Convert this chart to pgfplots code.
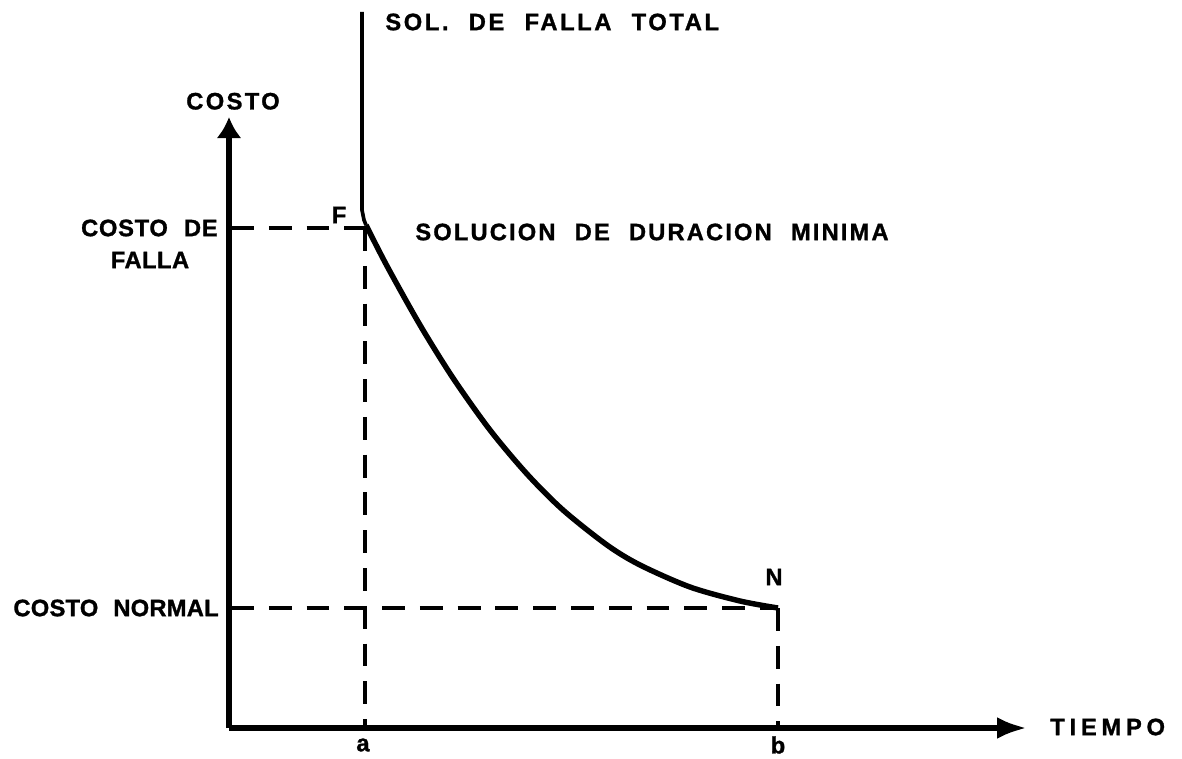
\documentclass[border=0pt]{standalone}
\usepackage{pgfplots}
\pgfplotsset{compat=1.18}
\usetikzlibrary{arrows.meta}
\usepackage{fontspec}
\setmainfont{Liberation Sans}
\newfontfamily\lab[WordSpace=2.2,BoldFeatures={FakeBold=1.2}]{Liberation Sans}
\newcommand\ls[1]{\addfontfeature{LetterSpace=#1}}
\tikzset{lbl/.style={font=\lab\bfseries\fontsize{13.5}{15}\selectfont, inner sep=0pt}}
\begin{document}
\begin{tikzpicture}
\begin{axis}[
  x=0.2mm, y=0.2mm,
  xmin=229, xmax=1027, ymin=30, ymax=641,
  axis lines=left,
  axis line style={line width=3.3pt},
  x axis line style={-{Latex[length=6mm,width=4.4mm]}},
  y axis line style={-{Latex[length=4.2mm,width=5mm]}},
  xtick=\empty, ytick=\empty,
  clip=false,
]
\path (axis cs:0,0) rectangle (axis cs:1182,758);
% vertical line (total failure solution)
\addplot[black, line width=2.1pt] coordinates {(362,746) (362,548) (364,538) (366,533)};
% cost curve
\addplot[black, line width=3.1pt, smooth] coordinates {
 (366,533) (387,492) (420,433) (453,380) (490,328) (527,284)
 (563,248) (607,213) (640,193) (690,171) (740,157) (778,150)};
% dashed guides
\addplot[black, line width=2pt, dash pattern=on 13pt off 8.5pt] coordinates {(231,530) (366,530)};
\addplot[black, line width=2pt, dash pattern=on 13pt off 8.5pt] coordinates {(365,530) (365,32)};
\addplot[black, line width=2pt, dash pattern=on 13pt off 8.5pt] coordinates {(231,150) (778,150)};
\addplot[black, line width=2pt, dash pattern=on 13pt off 8.5pt] coordinates {(778,150) (778,32)};
% labels
\node[lbl, anchor=south] at (axis cs:233,648) {\ls{10}COSTO};
\node[lbl, anchor=west] at (axis cs:1050,31) {\ls{20}TIEMPO};
\node[lbl] at (axis cs:363,13) {a};
\node[lbl] at (axis cs:778,13) {b};
\node[lbl, anchor=east] at (axis cs:218,530) {\ls{3}COSTO DE};
\node[lbl] at (axis cs:150,498) {\ls{2}FALLA};
\node[lbl, anchor=east] at (axis cs:219,150) {\ls{1}COSTO NORMAL};
\node[lbl] at (axis cs:339,543) {F};
\node[lbl] at (axis cs:774,181) {N};
\node[lbl, anchor=west] at (axis cs:415,526) {\ls{9}SOLUCION DE DURACION MINIMA};
\node[lbl, anchor=west] at (axis cs:385,736) {\ls{11}SOL. DE FALLA TOTAL};
\end{axis}
\end{tikzpicture}
\end{document}
